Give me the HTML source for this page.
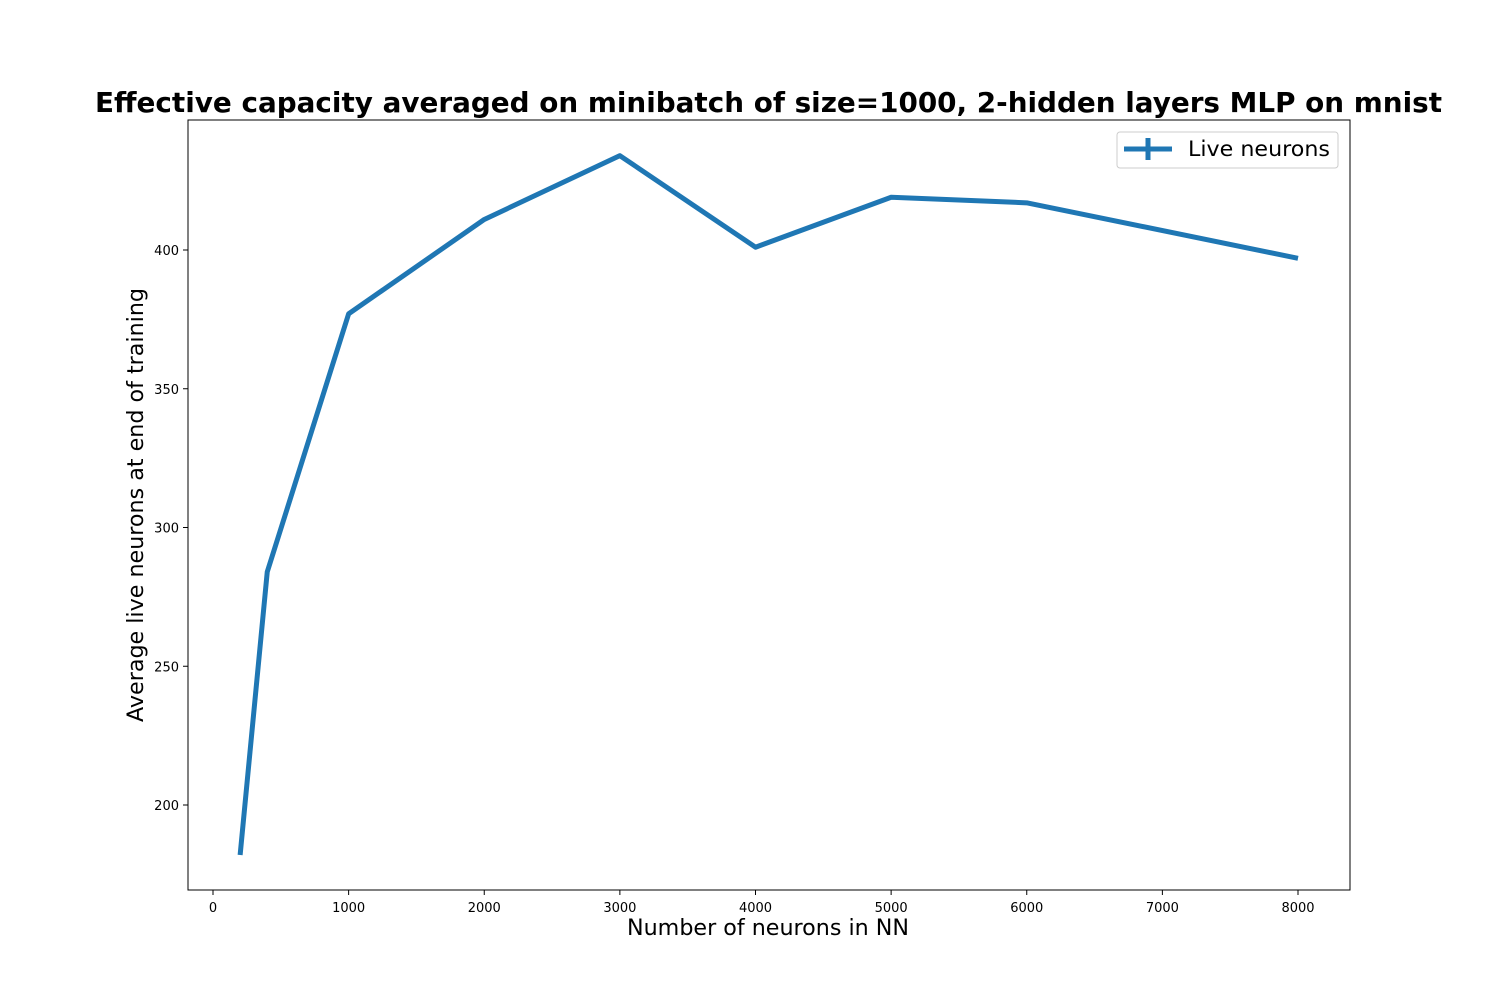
<!DOCTYPE html>
<html><head><meta charset="utf-8"><style>
body{margin:0;background:#fff;}
svg{display:block;font-family:"DejaVu Sans","Liberation Sans",sans-serif;}
</style></head><body>
<svg id="chart" width="1500" height="1000">
<rect x="0" y="0" width="1500" height="1000" fill="#fff"/>
<text x="95" y="112" font-size="27.8" font-weight="bold" textLength="1347" lengthAdjust="spacingAndGlyphs">Effective capacity averaged on minibatch of size=1000, 2-hidden layers MLP on mnist</text>
<g id="ticks"></g>
<polyline id="series" fill="none" stroke="#1f77b4" stroke-width="5" stroke-linejoin="round"/>
<rect x="188" y="120" width="1162" height="770" fill="none" stroke="#000" stroke-width="1"/>
<text x="627" y="935" font-size="22.3" textLength="282" lengthAdjust="spacingAndGlyphs">Number of neurons in NN</text>
<text transform="translate(143,722) rotate(-90)" font-size="22.3" textLength="434" lengthAdjust="spacingAndGlyphs">Average live neurons at end of training</text>
<g>
<rect x="1117" y="132" width="221" height="36" rx="3" fill="#fff" stroke="#ccc"/>
<line x1="1124" y1="149" x2="1172" y2="149" stroke="#1f77b4" stroke-width="5"/>
<line x1="1148" y1="138" x2="1148" y2="160" stroke="#1f77b4" stroke-width="5"/>
<text x="1188" y="156" font-size="21" textLength="142" lengthAdjust="spacingAndGlyphs">Live neurons</text>
</g>
</svg>
<script>
const xs = [200,400,1000,2000,3000,4000,5000,6000,8000];
const ys = [182,284,377,411,434,401,419,417,397];
const xTicks = [0,1000,2000,3000,4000,5000,6000,7000,8000];
const yTicks = [200,250,300,350,400];
const sx = v => 213 + v*(1085/8000);
const sy = v => 805 - (v-200)*(555/200);
const NS="http://www.w3.org/2000/svg";
const g=document.getElementById('ticks');
xTicks.forEach(t=>{
  const l=document.createElementNS(NS,'line');
  l.setAttribute('x1',sx(t));l.setAttribute('x2',sx(t));l.setAttribute('y1',890);l.setAttribute('y2',895);l.setAttribute('stroke','#000');
  
  
  g.appendChild(l);
  const tx=document.createElementNS(NS,'text');
  tx.setAttribute('x',sx(t));tx.setAttribute('y',912);tx.setAttribute('text-anchor','middle');tx.setAttribute('font-size','13');
  tx.textContent=t;
  
  
  g.appendChild(tx);
});
yTicks.forEach(t=>{
  const l=document.createElementNS(NS,'line');
  l.setAttribute('x1',183);l.setAttribute('x2',188);l.setAttribute('y1',sy(t));l.setAttribute('y2',sy(t));l.setAttribute('stroke','#000');
  
  
  g.appendChild(l);
  const tx=document.createElementNS(NS,'text');
  tx.setAttribute('x',179);tx.setAttribute('y',sy(t)+5);tx.setAttribute('text-anchor','end');tx.setAttribute('font-size','13');
  tx.textContent=t;
  
  
  g.appendChild(tx);
});
document.getElementById('series').setAttribute('points', xs.map((x,i)=>sx(x)+','+sy(ys[i])).join(' '));
</script>
</body></html>
